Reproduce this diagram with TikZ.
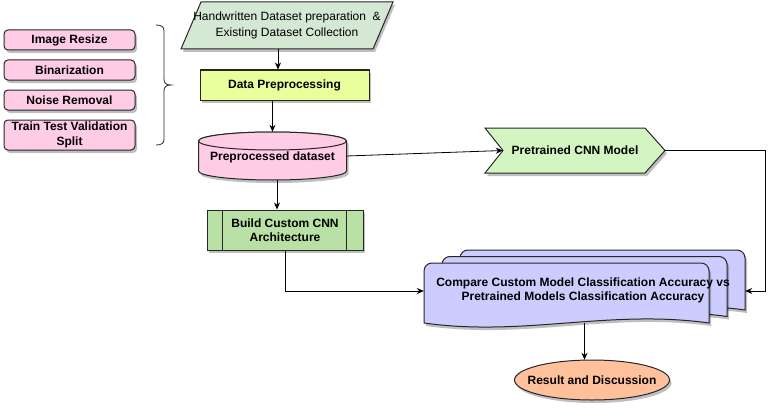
\documentclass[tikz,border=0pt]{standalone}
\usepackage{fontspec}
\setmainfont{Liberation Sans}
\usetikzlibrary{arrows.meta,shadows,shapes.geometric}
\definecolor{pinkc}{HTML}{FFCCE6}
\definecolor{hwgreen}{HTML}{D5E8D4}
\definecolor{dpyellow}{HTML}{E8FF9C}
\definecolor{pregreen}{HTML}{D2F5C2}
\definecolor{buildgreen}{HTML}{B9E0A5}
\definecolor{docblue}{HTML}{CCCCFF}
\definecolor{resorange}{HTML}{FFC09C}
\newcommand\docshape[2]{%
  \path[bd, shd, fill=docblue] (#1,#2+60) -- (#1,#2+8) arc[start angle=180, end angle=90, radius=8pt]
    -- (#1+277,#2) arc[start angle=90, end angle=0, radius=8pt]
    -- (#1+285,#2+60) .. controls (#1+185,#2+46) and (#1+100,#2+74) .. (#1,#2+60) -- cycle;}
\begin{document}
\begin{tikzpicture}[x=1pt,y=-1pt,
  every node/.style={font=\fontsize{12}{14.5}\selectfont\bfseries},
  shd/.style={drop shadow={shadow xshift=2pt,shadow yshift=-3pt,opacity=0.25,fill=black}},
  bd/.style={draw=black!85, line width=1pt},
  arr/.style={draw=black, line width=0.8pt, -{Stealth[length=7pt,width=6pt]}},
  lbox/.style={bd, shd, fill=pinkc, rounded corners=4pt, minimum width=131pt, inner sep=0pt, align=center},
]
\useasboundingbox (0,0) rectangle (784,420);

% left boxes
\node[lbox, minimum height=20pt] (b1) at (69.5,40) {Image Resize};
\node[lbox, minimum height=20pt] (b2) at (69.5,70) {Binarization};
\node[lbox, minimum height=20pt] (b3) at (69.5,100) {Noise Removal};
\node[lbox, minimum height=30pt] (b4) at (69.5,135) {Train Test Validation\\Split};

% brace
\draw[line width=0.8pt, black!85] (156,25) .. controls (162,25) and (164,27) .. (164,31) -- (164,79)
  .. controls (164,83) and (166,85) .. (171,85) .. controls (166,85) and (164,87) .. (164,91)
  -- (164,139) .. controls (164,143) and (162,145) .. (156,145);

% parallelogram
\path[bd, shd, fill=hwgreen] (201,2) -- (393,2) -- (373,49) -- (181,49) -- cycle;
\node[align=center, inner sep=0pt, minimum width=212pt, minimum height=47pt,
  font=\fontsize{12}{15.5}\selectfont] (hw) at (287,25.5)
  {Handwritten Dataset preparation\ \ \&\\Existing Dataset Collection};

% data preprocessing
\node[bd, shd, fill=dpyellow, minimum width=169pt, minimum height=30pt, inner sep=0pt] (dp) at (284.5,85) {Data Preprocessing};

% cylinder
\path[bd, shd, fill=pinkc] (198.5,141) -- (198.5,171) arc[start angle=180, end angle=360, x radius=74pt, y radius=9pt]
  -- (346.5,141) arc[start angle=0, end angle=180, x radius=74pt, y radius=9pt] -- cycle;
\draw[bd, fill=pinkc] (272.5,141) ellipse[x radius=74pt, y radius=9pt];
\node[inner sep=0pt, minimum width=148pt, minimum height=48pt] (cyl) at (272.5,156) {};
\node at (272.5,157) {Preprocessed dataset};

% pretrained
\path[bd, shd, fill=pregreen] (485,128) -- (645,128) -- (665,150.5) -- (645,173) -- (485,173) -- (503,150.5) -- cycle;
\node[inner sep=0pt, minimum width=180pt, minimum height=45pt] (pre) at (575,150.5) {Pretrained CNN Model};

% build
\node[bd, shd, fill=buildgreen, minimum width=156pt, minimum height=40pt, inner sep=0pt, align=center] (build) at (285,230) {Build Custom CNN\\Architecture};
\draw[bd] ([xshift=16pt]build.north west) -- ([xshift=16pt]build.south west);
\draw[bd] ([xshift=-17pt]build.north east) -- ([xshift=-17pt]build.south east);

% multi document
\docshape{460}{250}
\docshape{442}{256.5}
\docshape{424}{263}
\node[inner sep=0pt, minimum width=321pt, minimum height=73pt] (cmp) at (584.5,286.5) {};
\node[align=center, inner sep=0pt] at (583,290.5) {Compare Custom Model Classification Accuracy vs\\Pretrained Models Classification Accuracy};

% result
\path[bd, shd, fill=resorange] (592,380) ellipse[x radius=77.5pt, y radius=20pt];
\node[inner sep=0pt, minimum width=155pt, minimum height=40pt] (res) at (592,380) {Result and Discussion};

% connectors
\coordinate (a1) at ([xshift=-6.5pt]dp.north);
\draw[arr] (a1 |- hw.south) -- (a1);
\draw[arr] (dp.south -| cyl.north) -- (cyl.north);
\coordinate (a3) at ([xshift=4.5pt]cyl.south);
\draw[arr] (a3) -- (a3 |- build.north);
\draw[arr] (cyl.east) -- ([xshift=18pt]pre.west);
\coordinate (a5) at ([yshift=-4.5pt]cmp.west);
\draw[arr] (build.south) |- (a5);
\coordinate (rc) at (765,150.5);
\coordinate (a6) at ([yshift=-4.5pt]cmp.east);
\draw[arr] (pre.east) -- (rc) |- (a6);
\draw[arr] (cmp.south) -- (cmp.south |- res.north);
\end{tikzpicture}
\end{document}
